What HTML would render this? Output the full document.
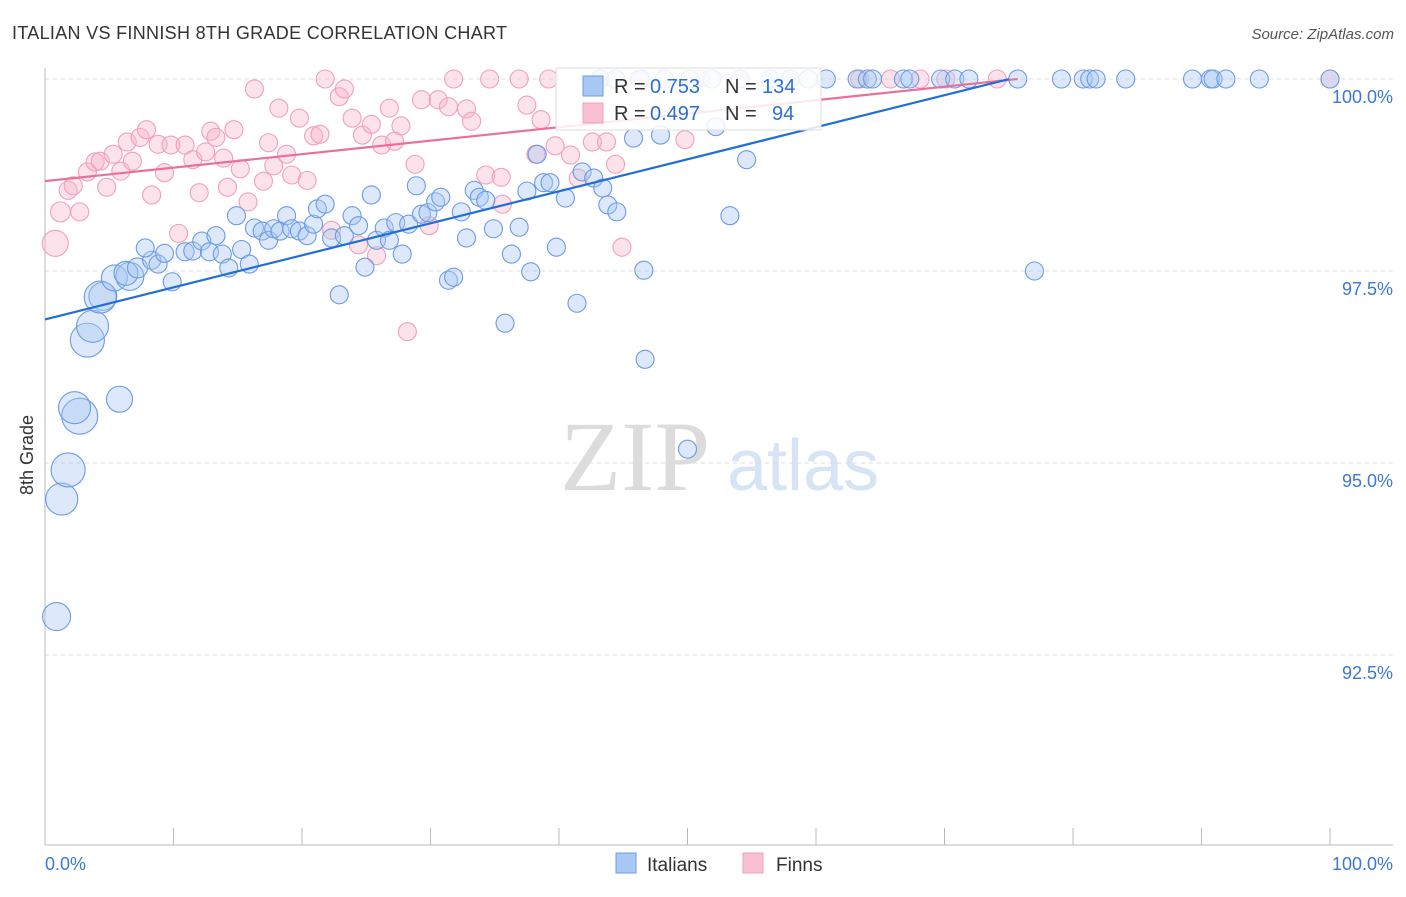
<!DOCTYPE html>
<html><head><meta charset="utf-8"><style>
body{margin:0;background:#fff;font-family:"Liberation Sans",sans-serif}
</style></head><body>
<svg id="c" width="1406" height="892" style="font-family:'Liberation Sans',sans-serif">
<text x="12" y="39" font-size="18" fill="#333" textLength="495">ITALIAN VS FINNISH 8TH GRADE CORRELATION CHART</text>
<text x="1394" y="39" font-size="15" fill="#555" font-style="italic" text-anchor="end">Source: ZipAtlas.com</text>
<text x="33" y="455" font-size="18" fill="#333" transform="rotate(-90 33 455)" text-anchor="middle">8th Grade</text>
<g><text x="635" y="490" font-size="100" fill="#dcdcdc" style="font-family:'Liberation Serif',serif" text-anchor="middle">ZIP</text><text x="803" y="490" font-size="72" fill="#d6e4f5" text-anchor="middle">atlas</text></g>
<g id="grid"></g><g id="axes"></g><g id="pts"></g><g id="lines"></g>
<g>
<rect x="556" y="68" width="265" height="62" fill="#fff" fill-opacity="0.85" stroke="#ddd"/>
<rect x="583" y="76" width="20" height="20" fill="#a9c8f3" stroke="#6a9be6"/>
<rect x="583" y="103" width="20" height="20" fill="#f9c0d3" stroke="#f0a0bd"/>
<text x="614" y="93" font-size="20" fill="#333">R =</text><text x="650" y="93" font-size="20" fill="#2a6fd6">0.753</text>
<text x="725" y="93" font-size="20" fill="#333">N =</text><text x="762" y="93" font-size="20" fill="#2a6fd6">134</text>
<text x="614" y="120" font-size="20" fill="#333">R =</text><text x="650" y="120" font-size="20" fill="#2a6fd6">0.497</text>
<text x="725" y="120" font-size="20" fill="#333">N =</text><text x="772" y="120" font-size="20" fill="#2a6fd6">94</text>
</g>
<g>
<rect x="616" y="853" width="20" height="20" fill="#a9c8f3" stroke="#6a9be6"/>
<text x="647" y="871" font-size="19" fill="#333">Italians</text>
<rect x="743" y="853" width="20" height="20" fill="#f9c0d3" stroke="#f0a0bd"/>
<text x="776" y="871" font-size="19" fill="#333">Finns</text>
</g>
</svg>
<script>
const yTicks=[100,97.5,95,92.5];
const yTickLabels=["100.0%","97.5%","95.0%","92.5%"];
const blueX=[0.9,1.3,1.8,2.7,2.3,5.8,3.3,3.7,4.5,4.3,5.4,6.6,6.3,7.2,8.3,8.8,9.3,7.8,9.9,10.9,11.5,12.2,12.8,13.3,13.8,14.3,14.9,15.3,15.9,16.3,16.9,17.4,17.8,18.3,18.8,19.2,19.8,20.4,20.9,21.2,21.8,22.3,22.9,23.3,23.9,24.4,24.9,25.4,25.8,26.4,26.8,27.3,27.8,28.3,28.9,29.3,29.8,30.4,30.8,31.4,31.8,32.4,32.8,33.4,33.8,34.3,34.9,35.8,36.3,36.9,37.5,37.8,38.3,38.8,39.3,39.8,40.5,41.4,41.8,42.7,43.4,43.8,44.5,45.8,46.6,46.7,47.9,50.0,52.2,53.3,54.6,77.0,43.2,44.4,46.3,48.2,50.2,51.9,54.1,56.4,58.0,59.4,60.8,63.2,64.0,64.4,66.8,67.3,69.7,70.8,71.9,75.7,79.1,80.8,81.3,81.8,84.1,89.3,90.7,90.9,91.9,94.5,100];
const blueY=[93.0,94.53,94.91,95.61,95.72,95.83,96.60,96.78,97.17,97.16,97.41,97.43,97.47,97.54,97.64,97.59,97.73,97.80,97.36,97.75,97.76,97.89,97.75,97.96,97.72,97.54,98.22,97.78,97.59,98.06,98.02,97.90,98.05,98.02,98.22,98.05,98.02,97.96,98.11,98.31,98.37,97.93,97.19,97.96,98.22,98.09,97.55,98.49,97.90,98.06,97.90,98.13,97.72,98.11,98.61,98.24,98.26,98.40,98.46,97.38,97.42,98.27,97.93,98.55,98.46,98.42,98.05,96.82,97.72,98.07,98.54,97.49,99.02,98.65,98.65,97.81,98.45,97.08,98.79,98.71,98.58,98.36,98.27,99.23,97.51,96.35,99.27,95.18,99.38,98.22,98.95,97.50,100,100,100,100,100,100,100,100,100,100,100,100,100,100,100,100,100,100,100,100,100,100,100,100,100,100,100,100,100,100,100];
const blueR=[14,16,17,18,16,13,17,16,14,16,13,14,12,10,9,9,9,9];
const pinkX=[0.8,1.2,2.7,1.8,2.2,3.3,3.9,4.3,4.8,5.3,5.9,6.4,6.8,7.4,7.9,8.3,8.8,9.3,9.8,10.4,10.9,11.5,12.0,12.5,12.9,13.3,13.9,14.2,14.7,15.2,15.8,16.3,17.0,17.4,17.8,18.2,18.8,19.2,19.8,20.4,20.9,21.4,21.8,22.3,22.9,23.3,23.9,24.4,24.7,25.4,25.8,26.2,26.8,27.2,27.7,28.2,28.8,29.3,29.9,30.6,31.4,31.8,32.8,33.2,34.3,34.6,35.5,35.6,36.9,37.5,38.2,38.6,39.2,39.7,40.9,41.5,42.6,43.2,43.7,44.4,44.9,46.5,49.8,51.0,54.1,58.0,63.4,65.8,68.1,70.1,74.1,100];
const pinkY=[97.86,98.27,98.27,98.55,98.61,98.79,98.92,98.93,98.59,99.02,98.80,99.18,98.93,99.24,99.34,98.49,99.15,98.78,99.14,97.99,99.14,98.95,98.52,99.05,99.32,99.24,98.97,98.59,99.34,98.83,98.40,99.87,98.67,99.17,98.87,99.62,99.02,98.75,99.49,98.68,99.26,99.28,100,98.03,99.77,99.87,99.49,97.84,99.27,99.41,97.70,99.14,99.62,99.19,99.39,96.71,98.89,99.73,98.09,99.73,99.64,100,99.61,99.45,98.75,100,98.72,98.37,100,99.66,99.02,99.47,100,99.13,99.01,98.71,99.18,100,99.18,98.89,97.81,100,99.21,100,100,100,100,100,100,100,100,100];
const pinkR=[13,10];
const blueFit=[96.87,0.0417,75];
const pinkFit=[98.67,0.01757,75.7];
const NS="http://www.w3.org/2000/svg";
const X=v=>45+v*12.85, Y=v=>79+(100-v)*76.8;
function mk(t,a,p){const e=document.createElementNS(NS,t);for(const k in a)e.setAttribute(k,a[k]);p.appendChild(e);return e;}
const grid=document.getElementById('grid'),axes=document.getElementById('axes');
yTicks.forEach((t,i)=>{
 const l=mk('line',{x1:45,x2:1393,y1:Y(t),y2:Y(t),stroke:'#ddd','stroke-dasharray':'4,4'},grid);
 
 
 const tx=mk('text',{x:1393,y:Y(t)+24,'font-size':18,fill:'#3a78d8','text-anchor':'end'},axes);
 tx.textContent=yTickLabels[i];
 
 
});
mk('line',{x1:45,x2:45,y1:68,y2:845,stroke:'#bbb'},axes);
mk('line',{x1:45,x2:1393,y1:845,y2:845,stroke:'#bbb'},axes);
for(let i=0;i<=10;i++){const t=mk('line',{x1:X(i*10),x2:X(i*10),y1:828,y2:845,stroke:'#bbb'},axes);}
[["0.0%",45,"start"],["100.0%",1393,"end"]].forEach(d=>{const t=mk('text',{x:d[1],y:870,'font-size':18,fill:'#3a78d8','text-anchor':d[2]},axes);t.textContent=d[0];});
const pts=document.getElementById('pts');
function series(xs,ys,rs,fill,stroke,name){xs.forEach((x,i)=>{
 const c=mk('circle',{cx:X(x),cy:Y(ys[i]),r:rs[i]||9,fill:fill,'fill-opacity':0.4,stroke:stroke,'stroke-width':1.1},pts);
 
 
});}
series(pinkX,pinkY,pinkR,'#f7b6cb','#f0a0bd','finns-point');
series(blueX,blueY,blueR,'#a9c8f3','#6a9be6','italians-point');
const lines=document.getElementById('lines');
function fit(f,col,name){const l=mk('line',{x1:X(0),y1:Y(f[0]),x2:X(f[2]),y2:Y(f[0]+f[1]*f[2]),stroke:col,'stroke-width':2.2},lines);
 
 }
fit(pinkFit,'#e8719a','finns-trendline');
fit(blueFit,'#1f6fd6','italians-trendline');
</script>
</body></html>
